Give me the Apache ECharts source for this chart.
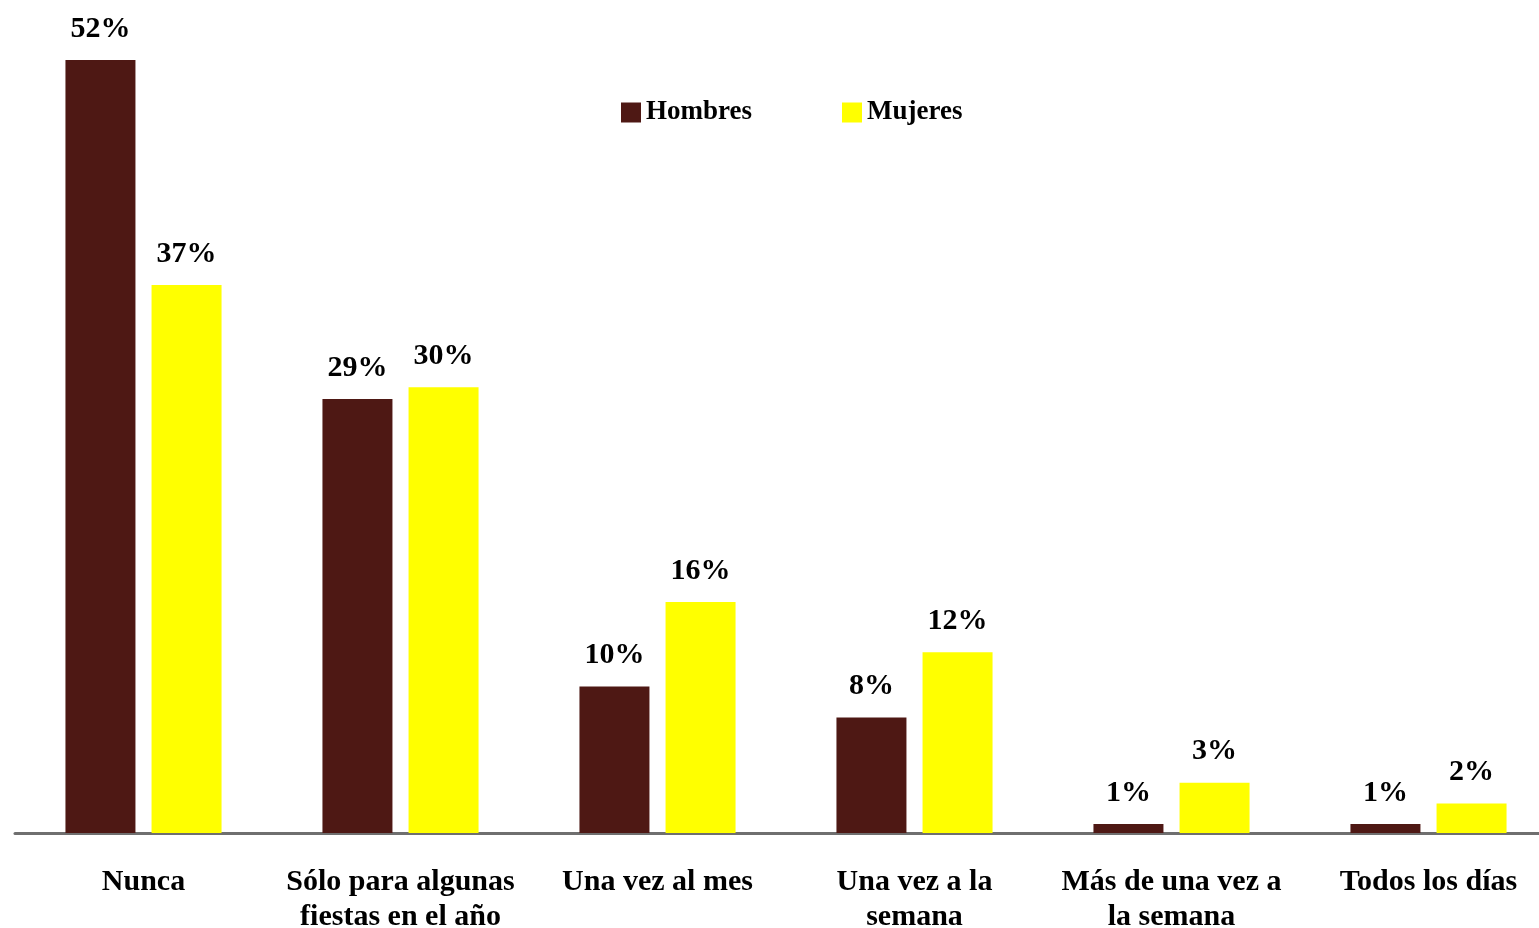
<!DOCTYPE html>
<html>
<head>
<meta charset="utf-8">
<script src="https://cdn.jsdelivr.net/npm/echarts@6/dist/echarts.min.js"></script>
<style>
html,body{margin:0;padding:0;background:#fff;}
#chart{width:1539px;height:928px;}
</style>
</head>
<body>
<div id="chart"></div>
<script>
const categories = [
  'Nunca',
  'Sólo para algunas\nfiestas en el año',
  'Una vez al mes',
  'Una vez a la\nsemana',
  'Más de una vez a\nla semana',
  'Todos los días'
];
const seriesNames = ['Hombres', 'Mujeres'];
const hombres = [52.2, 29.3, 9.9, 7.8, 0.6, 0.6];
const mujeres = [37.0, 30.1, 15.6, 12.2, 3.4, 2.0];

const FONT = '"Liberation Serif", "Times New Roman", serif';
const chart = echarts.init(document.getElementById('chart'));

const labelStyle = {
  show: true,
  position: 'top',
  distance: 16,
  fontFamily: FONT,
  fontWeight: 'bold',
  fontSize: 30,
  color: '#000',
  formatter: p => Math.round(p.value) + '%'
};

chart.setOption({
  animation: false,
  backgroundColor: '#fff',
  legend: {
    data: seriesNames,
    left: 621,
    top: 99,
    padding: 0,
    icon: 'rect',
    itemWidth: 20,
    itemHeight: 20,
    itemGap: 90,
    textStyle: { fontFamily: FONT, fontWeight: 'bold', fontSize: 27, color: '#000' }
  },
  grid: { left: 15, width: 1542, top: 60, bottom: 95, outerBoundsMode: 'none', containLabel: false },
  xAxis: {
    type: 'category',
    data: categories,
    axisLine: { show: true, lineStyle: { color: '#6f6f6f', width: 3 } },
    axisTick: { show: false },
    axisLabel: {
      interval: 0,
      margin: 32,
      fontFamily: FONT,
      fontWeight: 'bold',
      fontSize: 30,
      lineHeight: 35,
      color: '#000'
    }
  },
  yAxis: {
    type: 'value',
    min: 0,
    max: 'dataMax',
    show: false,
    splitLine: { show: false }
  },
  series: [
    {
      name: seriesNames[0],
      type: 'bar',
      data: hombres,
      barWidth: 70,
      barGap: '23%',
      itemStyle: { color: '#4E1814' },
      label: labelStyle
    },
    {
      name: seriesNames[1],
      type: 'bar',
      data: mujeres,
      barWidth: 70,
      itemStyle: { color: '#FFFF00' },
      label: labelStyle
    }
  ]
});
</script>
</body>
</html>
